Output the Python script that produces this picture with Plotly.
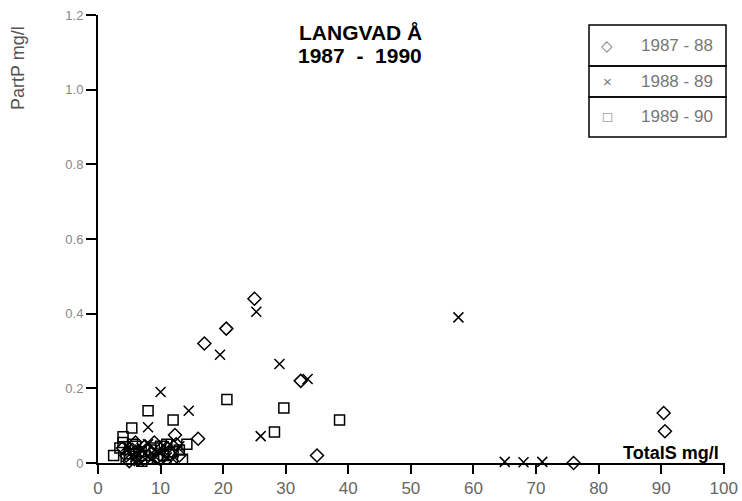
import plotly.graph_objects as go

# Total sulphur (x) versus particulate phosphorus (y), Langvad Å, three seasons
s1_x = [4.5, 5.5, 6.5, 7.5, 8.5, 9.5, 11, 12.3, 16, 20.5, 17, 25, 32.4, 35, 76, 90.4, 90.6, 13, 6,
        5.0, 7.0, 8.0, 10.0, 11.5, 12.5, 9.0, 6.0, 4.0]
s1_y = [0.02, 0.035, 0.01, 0.045, 0.025, 0.015, 0.04, 0.075, 0.065, 0.36, 0.32, 0.44, 0.22, 0.02, 0.0, 0.134, 0.085, 0.02, 0.055,
        0.005, 0.02, 0.035, 0.01, 0.025, 0.05, 0.055, 0.03, 0.04]

s2_x = [8, 5, 6, 7, 8.5, 10, 11.5, 13, 26, 57.6, 25.3, 19.5, 29, 33.5, 14.5, 10, 65, 68, 71,
        4.5, 6.5, 7.5, 9.0, 10.5, 12.0, 5.5, 8.0, 11.0]
s2_y = [0.096, 0.03, 0.015, 0.04, 0.01, 0.03, 0.05, 0.045, 0.072, 0.39, 0.405, 0.29, 0.265, 0.225, 0.14, 0.19, 0.003, 0.002, 0.003,
        0.045, 0.005, 0.025, 0.02, 0.045, 0.01, 0.02, 0.05, 0.015]

s3_x = [5.4, 4, 8, 12, 20.6, 29.7, 28.2, 38.6, 14.2, 3.5, 4.5, 5.5, 6.5, 7.5, 9, 10.5, 12, 13.5, 2.5,
        5.0, 6.0, 7.0, 8.5, 9.5, 11.0, 13.0, 4.0, 10.0]
s3_y = [0.094, 0.07, 0.14, 0.115, 0.17, 0.147, 0.083, 0.115, 0.05, 0.04, 0.01, 0.05, 0.03, 0.02, 0.04, 0.02, 0.03, 0.01, 0.02,
        0.025, 0.045, 0.005, 0.035, 0.01, 0.05, 0.035, 0.055, 0.045]

series_names = ["1987 - 88", "1988 - 89", "1989 - 90"]
series_symbols = ["diamond-open", "x-thin-open", "square-open"]
legend_glyphs = ["◇", "×", "□"]

x_ticks = [0, 10, 20, 30, 40, 50, 60, 70, 80, 90, 100]
y_ticks = [0, 0.2, 0.4, 0.6, 0.8, 1.0, 1.2]
y_tick_text = ["0", "0.2", "0.4", "0.6", "0.8", "1.0", "1.2"]

fig = go.Figure()
for xs, ys, name, sym in zip([s1_x, s2_x, s3_x], [s1_y, s2_y, s3_y], series_names, series_symbols):
    fig.add_trace(go.Scatter(
        x=xs, y=ys, mode="markers", name=name, showlegend=False,
        marker=dict(symbol=sym, size=10, color="black", line=dict(color="black", width=1.5)),
        cliponaxis=False,
    ))

W, H = 742, 501
# plot box in page pixels
BOX_L, BOX_R, BOX_T, BOX_B = 98, 725, 15, 463

fig.update_layout(
    width=W, height=H,
    margin=dict(l=BOX_L, r=W - BOX_R, t=BOX_T, b=H - BOX_B),
    paper_bgcolor="white", plot_bgcolor="white",
    font=dict(family="Liberation Sans, Arial, sans-serif", color="black"),
    xaxis=dict(range=[0, 100.2], tickvals=x_ticks, ticktext=[str(v) for v in x_ticks],
               automargin=False,
               showgrid=False, zeroline=False, showline=True, linecolor="black", linewidth=2,
               ticks="outside", ticklen=9, tickwidth=2, tickcolor="black",
               tickfont=dict(size=17, color="#666")),
    yaxis=dict(range=[0, 1.2], tickvals=y_ticks, ticktext=y_tick_text,
               automargin=False,
               showgrid=False, zeroline=False, showline=True, linecolor="black", linewidth=2,
               ticks="outside", ticklen=10, tickwidth=2, tickcolor="black",
               tickfont=dict(size=13, color="#888")),
    showlegend=False,
)

def px(xp):
    return (xp - BOX_L) / (BOX_R - BOX_L)

def py(yp):
    return (BOX_B - yp) / (BOX_B - BOX_T)

def note(text, xp, yp, size, color="black", xanchor="center", angle=0):
    return dict(text=text, x=px(xp), y=py(yp), xref="paper", yref="paper",
                xanchor=xanchor, yanchor="middle", textangle=angle,
                showarrow=False, font=dict(size=size, color=color))

annotations = [
    note("<b>LANGVAD Å</b>", 360, 32, 21),
    note("<b>1987&nbsp;&nbsp;-&nbsp;&nbsp;1990</b>", 360, 55, 21),
    note("<b>TotalS mg/l</b>", 721, 453, 18, xanchor="right"),
    note("PartP mg/l", 18, 68, 18, color="#555", angle=-90),
]

# Boxed legend with one row per season
box_left, box_right = 589, 726
rows = [(25, 66), (66, 97), (97, 137)]
shapes = []
for i, (top, bot) in enumerate(rows):
    shapes.append(dict(type="rect", xref="paper", yref="paper",
                       x0=px(box_left), x1=px(box_right), y0=py(bot), y1=py(top),
                       line=dict(color="black", width=1.5), fillcolor="rgba(0,0,0,0)"))
    mid = (top + bot) / 2
    annotations.append(note(legend_glyphs[i], 607, mid, 15, color="#777"))
    annotations.append(note(series_names[i], 677, mid, 17, color="#777"))

fig.update_layout(annotations=annotations, shapes=shapes)
fig.write_html("out.html")
